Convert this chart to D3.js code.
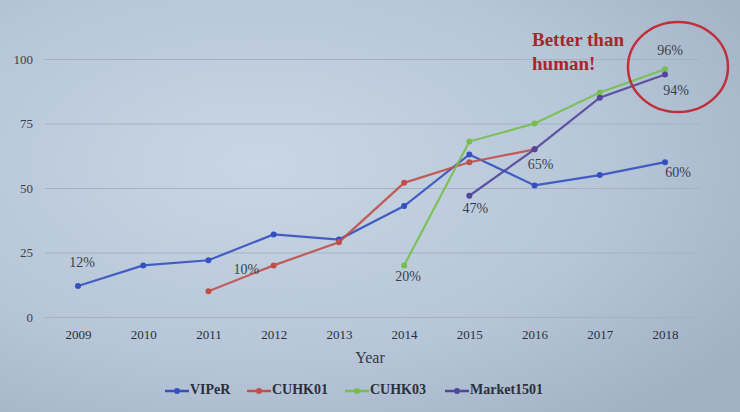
<!DOCTYPE html>
<html><head><meta charset="utf-8">
<script src="https://cdn.jsdelivr.net/npm/d3@7"></script>
<style>html,body{margin:0;padding:0;overflow:hidden;}</style>
</head><body>
<svg id="c" width="740" height="412"></svg>
<script>
const years = [2009,2010,2011,2012,2013,2014,2015,2016,2017,2018];
const yTicks = [0,25,50,75,100];
const seriesNames = ["VIPeR","CUHK01","CUHK03","Market1501"];
const viper = [12,20,22,32,30,43,63,51,55,60];
const cuhk01 = [null,null,10,20,29,52,60,65,null,null];
const cuhk03 = [null,null,null,null,null,20,68,75,87,96];
const market = [null,null,null,null,null,null,47,65,85,94];
const colors = ["#3550c0","#c0504a","#76bf4c","#52459a"];
const annotations = [
  {t:"12%", year:2009, v:12, dx:4, dy:-22},
  {t:"10%", year:2011, v:10, dx:38, dy:-20},
  {t:"20%", year:2014, v:20, dx:4, dy:12},
  {t:"47%", year:2015, v:47, dx:6, dy:14},
  {t:"65%", year:2016, v:65, dx:6, dy:16},
  {t:"60%", year:2018, v:60, dx:13, dy:12},
  {t:"96%", year:2018, v:96, dx:5, dy:-18},
  {t:"94%", year:2018, v:94, dx:11, dy:17}
];
const seriesData = [viper,cuhk01,cuhk03,market];

const svg = d3.select("#c");
const defs = svg.append("defs");
const g1 = defs.append("radialGradient").attr("id","bg").attr("cx","35%").attr("cy","40%").attr("r","80%");
g1.append("stop").attr("offset","0%").attr("stop-color","#c9d6e4");
g1.append("stop").attr("offset","60%").attr("stop-color","#b6c6d8");
g1.append("stop").attr("offset","100%").attr("stop-color","#a1b1c4");
svg.append("rect").attr("width",740).attr("height",412).attr("fill","url(#bg)");

const x = d3.scalePoint().domain(years).range([78,665]);
const y = d3.scaleLinear().domain([0,100]).range([317,59]);
const font = "'Liberation Serif','Times New Roman',serif";

const grid = d3.axisLeft(y).tickValues(yTicks).tickSize(-655).tickFormat("");
svg.append("g").attr("transform","translate(45,0)").call(grid)
  .call(g=>g.select(".domain").remove())
  .call(g=>g.selectAll("line").attr("stroke","#a4b2c3").attr("stroke-width",1.2));

const ya = d3.axisLeft(y).tickValues(yTicks).tickSize(0).tickPadding(0);
svg.append("g").attr("transform","translate(33,0)").call(ya)
  .call(g=>g.select(".domain").remove())
  .call(g=>g.selectAll("text").attr("font-family",font).attr("font-size",13).attr("fill","#3a3f4a"));

const xa = d3.axisBottom(x).tickSize(0).tickPadding(0);
svg.append("g").attr("transform","translate(0,330)").call(xa)
  .call(g=>g.select(".domain").remove())
  .call(g=>g.selectAll("text").attr("font-family",font).attr("font-size",13).attr("fill","#2a2f3a"));

svg.append("text").attr("x",370).attr("y",363).attr("text-anchor","middle")
  .attr("font-family",font).attr("font-size",16).attr("fill","#333a46").text("Year");

const line = d3.line().defined(d=>d.v!=null).x(d=>x(d.year)).y(d=>y(d.v));
seriesData.forEach((arr,i)=>{
  const pts = years.map((yr,j)=>({year:yr,v:arr[j]}));
  svg.append("path").datum(pts).attr("d",line).attr("fill","none")
    .attr("stroke",colors[i]).attr("stroke-width",2.2).attr("opacity",0.9);
  svg.selectAll(null).data(pts.filter(d=>d.v!=null)).enter().append("circle")
    .attr("cx",d=>x(d.year)).attr("cy",d=>y(d.v)).attr("r",3).attr("fill",colors[i]);
});

annotations.forEach(a=>{
  svg.append("text").attr("x",x(a.year)+a.dx).attr("y",y(a.v)+a.dy).attr("text-anchor","middle")
    .attr("dominant-baseline","middle").attr("font-family",font).attr("font-size",14).attr("fill","#3a3f4a").text(a.t);
});

svg.append("text").attr("x",532).attr("y",46).attr("font-family",font)
  .attr("font-weight","bold").attr("font-size",19).attr("fill","#a52828").text("Better than");
svg.append("text").attr("x",532).attr("y",70).attr("font-family",font)
  .attr("font-weight","bold").attr("font-size",19).attr("fill","#a52828").text("human!");
svg.append("ellipse").attr("cx",678).attr("cy",67).attr("rx",50).attr("ry",45)
  .attr("fill","none").attr("stroke","#c0303a").attr("stroke-width",2.5);

const legX = [165,247,345,445];
seriesNames.forEach((n,i)=>{
  const gx = legX[i], gy = 391;
  svg.append("line").attr("x1",gx).attr("x2",gx+24).attr("y1",gy).attr("y2",gy).attr("stroke",colors[i]).attr("stroke-width",2.5);
  svg.append("circle").attr("cx",gx+12).attr("cy",gy).attr("r",3).attr("fill",colors[i]);
  svg.append("text").attr("x",gx+25).attr("y",gy).attr("dominant-baseline","middle").attr("font-family",font)
    .attr("font-weight","bold").attr("font-size",14).attr("fill","#2a2f3a").text(n);
});
</script>
</body></html>
